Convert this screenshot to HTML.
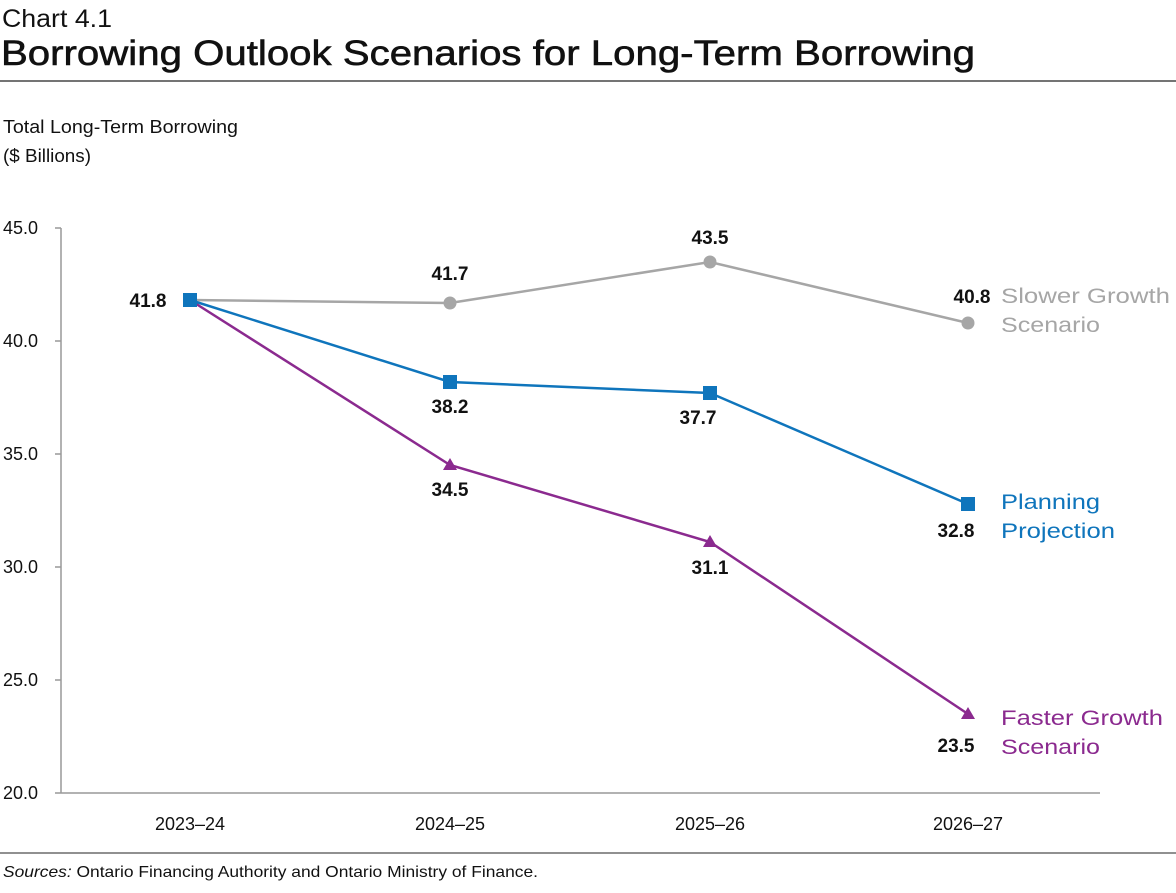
<!DOCTYPE html>
<html><head><style>
body{margin:0;width:1176px;height:888px;background:#fff;overflow:hidden;font-family:"Liberation Sans",sans-serif}
</style></head><body>
<svg width="1176" height="888" xmlns="http://www.w3.org/2000/svg" font-family="Liberation Sans, sans-serif">
<text x="2" y="27" font-size="25" fill="#111" textLength="110" lengthAdjust="spacingAndGlyphs">Chart 4.1</text>
<text x="1" y="65" font-size="35" fill="#111" textLength="974" lengthAdjust="spacingAndGlyphs" style="font-weight:500" stroke="#111" stroke-width="0.6">Borrowing Outlook Scenarios for Long-Term Borrowing</text>
<line x1="0" y1="81" x2="1176" y2="81" stroke="#222" stroke-width="1.2"/>
<text x="3" y="133" font-size="18" fill="#111" textLength="235" lengthAdjust="spacingAndGlyphs">Total Long-Term Borrowing</text>
<text x="3" y="162" font-size="18" fill="#111" textLength="88" lengthAdjust="spacingAndGlyphs">($ Billions)</text>
<g stroke="#999" stroke-width="1.5" fill="none">
<line x1="61" y1="228" x2="61" y2="793"/>
<line x1="61" y1="793" x2="1100" y2="793"/>
<line x1="55" y1="228" x2="61" y2="228"/><line x1="55" y1="341" x2="61" y2="341"/><line x1="55" y1="454" x2="61" y2="454"/><line x1="55" y1="567" x2="61" y2="567"/><line x1="55" y1="680" x2="61" y2="680"/><line x1="55" y1="793" x2="61" y2="793"/>
</g>
<g font-size="18" fill="#111">
<text x="3" y="234">45.0</text><text x="3" y="347">40.0</text><text x="3" y="460">35.0</text><text x="3" y="573">30.0</text><text x="3" y="686">25.0</text><text x="3" y="799">20.0</text>
</g>
<g font-size="18" fill="#111" text-anchor="middle">
<text x="190" y="830">2023–24</text><text x="450" y="830">2024–25</text><text x="710" y="830">2025–26</text><text x="968" y="830">2026–27</text>
</g>
<polyline points="190,300 450,303 710,262 968,323" fill="none" stroke="#a6a6a6" stroke-width="2.5"/>
<g fill="#a6a6a6"><circle cx="450" cy="303" r="6.5"/><circle cx="710" cy="262" r="6.5"/><circle cx="968" cy="323" r="6.5"/></g>
<polyline points="190,300 450,465 710,542 968,714" fill="none" stroke="#8b2a8f" stroke-width="2.5"/>
<g fill="#8b2a8f"><path d="M450,458 l7,12 h-14z"/><path d="M710,535 l7,12 h-14z"/><path d="M968,707 l7,12 h-14z"/></g>
<polyline points="190,300 450,382 710,393 968,504" fill="none" stroke="#0f75bc" stroke-width="2.5"/>
<g fill="#0f75bc"><rect x="183" y="293" width="14" height="14"/><rect x="443" y="375" width="14" height="14"/><rect x="703" y="386" width="14" height="14"/><rect x="961" y="497" width="14" height="14"/></g>
<g font-size="19" font-weight="bold" fill="#111" text-anchor="middle">
<text x="148" y="307">41.8</text>
<text x="450" y="280">41.7</text><text x="710" y="244">43.5</text><text x="972" y="303">40.8</text>
<text x="450" y="413">38.2</text><text x="698" y="424">37.7</text><text x="956" y="537">32.8</text>
<text x="450" y="496">34.5</text><text x="710" y="574">31.1</text><text x="956" y="752">23.5</text>
</g>
<g font-size="21">
<text x="1001" y="303" fill="#a6a6a6" textLength="169" lengthAdjust="spacingAndGlyphs">Slower Growth</text><text x="1001" y="332" fill="#a6a6a6" textLength="99" lengthAdjust="spacingAndGlyphs">Scenario</text>
<text x="1001" y="509" fill="#0f75bc" textLength="99" lengthAdjust="spacingAndGlyphs">Planning</text><text x="1001" y="538" fill="#0f75bc" textLength="114" lengthAdjust="spacingAndGlyphs">Projection</text>
<text x="1001" y="725" fill="#8b2a8f" textLength="162" lengthAdjust="spacingAndGlyphs">Faster Growth</text><text x="1001" y="754" fill="#8b2a8f" textLength="99" lengthAdjust="spacingAndGlyphs">Scenario</text>
</g>
<line x1="0" y1="853" x2="1176" y2="853" stroke="#222" stroke-width="1"/>
<text x="3" y="877" font-size="16" fill="#111" textLength="535" lengthAdjust="spacingAndGlyphs"><tspan font-style="italic">Sources:</tspan> Ontario Financing Authority and Ontario Ministry of Finance.</text>
</svg>
</body></html>
